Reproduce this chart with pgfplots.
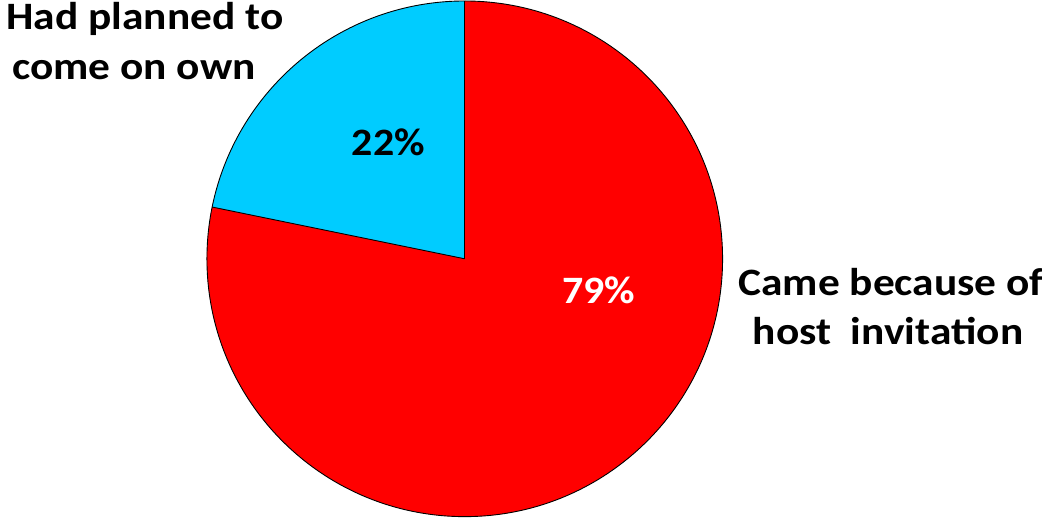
\documentclass[border=0pt]{standalone}
\usepackage{pgfplots}
\pgfplotsset{compat=1.18}
\usepackage{pgfplotstable}
\usepackage{fontspec}
\setmainfont{Carlito}
\newfontfamily\labfont[FakeStretch=1.12]{Carlito}
\newfontfamily\pctfont[FakeStretch=1.08]{Carlito}
\definecolor{slicecyan}{RGB}{0,204,255}
\definecolor{slicered}{RGB}{255,0,0}
\pgfplotstableread{
label value
planned 22
invited 79
}\piedata
\begin{document}
\pgfplotstablegetelem{0}{value}\of\piedata \let\va\pgfplotsretval
\pgfplotstablegetelem{1}{value}\of\piedata \let\vb\pgfplotsretval
\pgfmathsetmacro{\tot}{\va+\vb}
\pgfmathsetmacro{\angA}{90+\va/\tot*360}
\pgfmathsetmacro{\angB}{\angA+\vb/\tot*360}
\begin{tikzpicture}
\begin{axis}[
  width=1042pt, height=521pt, scale only axis,
  xmin=0, xmax=1042, ymin=0, ymax=521,
  hide axis, clip=false,
]
\fill[slicecyan] (axis cs:461,260.5) -- ++(90:259.5pt) arc[start angle=90, end angle=\angA, radius=259.5pt] -- cycle;
\fill[slicered] (axis cs:461,260.5) -- ++(\angA:259.5pt) arc[start angle=\angA, end angle=\angB, radius=259.5pt] -- cycle;
\draw[black, line width=0.9pt] (axis cs:461,260.5) -- ++(90:259.5pt);
\draw[black, line width=0.9pt] (axis cs:461,260.5) -- ++(\angA:259.5pt);
\draw[black, line width=0.9pt] (axis cs:461,260.5) circle[radius=259.5pt];
\node[anchor=base, font=\labfont\fontsize{39}{44}\selectfont\bfseries] at (axis cs:139,491) {Had planned to};
\node[anchor=base, font=\labfont\fontsize{39}{44}\selectfont\bfseries] at (axis cs:128,441) {come on own};
\node[anchor=base, font=\labfont\fontsize{39}{44}\selectfont\bfseries] at (axis cs:890,224) {Came because of};
\node[anchor=base, font=\labfont\fontsize{39}{44}\selectfont\bfseries] at (axis cs:887,174) {host\ \ invitation};
\node[anchor=base, font=\pctfont\fontsize{39}{44}\selectfont\bfseries] at (axis cs:384,364) {22\%};
\node[anchor=base, text=white, font=\pctfont\fontsize{39}{44}\selectfont\bfseries] at (axis cs:596,216) {79\%};
\end{axis}
\pgfresetboundingbox
\path[use as bounding box] (current axis.south west) rectangle (current axis.north east);
\end{tikzpicture}
\end{document}
